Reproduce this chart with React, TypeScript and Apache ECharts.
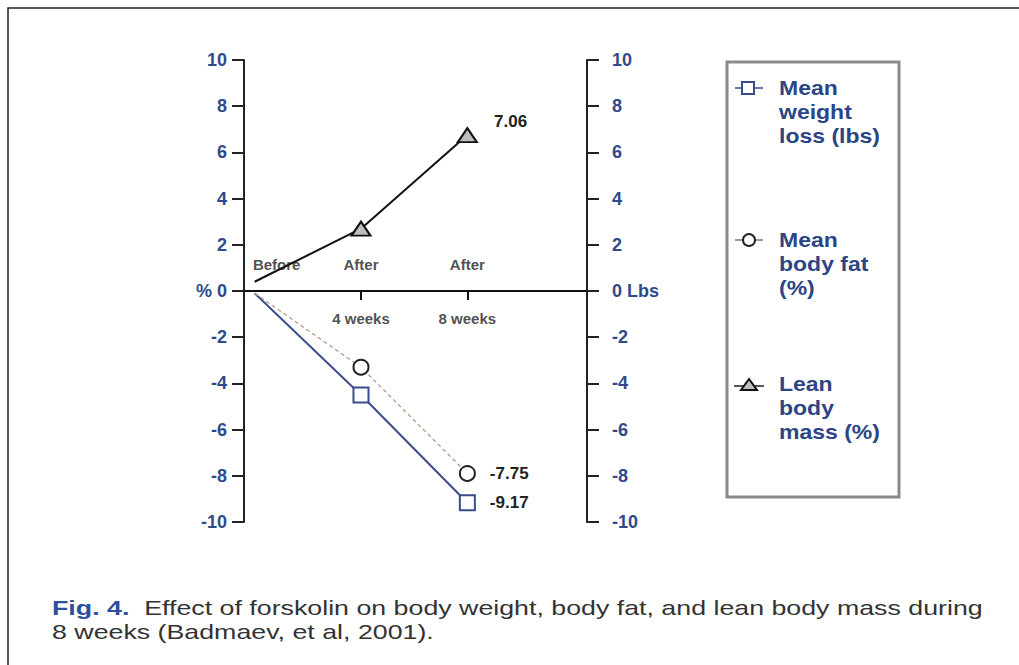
import React, { useEffect, useRef } from "react";
import * as echarts from "echarts";

const weeks = [0, 4, 8];
const stageTop = ["Before", "After", "After"];
const stageBottom = ["", "4 weeks", "8 weeks"];
const weightLoss = [-0.1, -4.5, -9.17];
const bodyFat = [-0.1, -3.3, -7.9];
const leanMass = [0.4, 2.7, 6.75];
const endLabels = { weight: "-9.17", fat: "-7.75", lean: "7.06" };
const yTicks = { min: -10, max: 10, step: 2 };
const legendNames = ["Mean\nweight\nloss (lbs)", "Mean\nbody fat\n(%)", "Lean\nbody\nmass (%)"];
const caption = "Effect of forskolin on body weight, body fat, and lean body mass during\n8 weeks (Badmaev, et al, 2001).";

const BLUE = "#2f4a8c";
const LINE_BLUE = "#3a4c8c";
const FONT = "Liberation Sans, Arial, sans-serif";

function build(vals: number[], endText: string) {
  return vals.map((v, i) => {
    const item: any = { value: [weeks[i], v] };
    if (i === 0) item.symbol = "none";
    if (i === vals.length - 1) {
      item.label = {
        show: true,
        formatter: endText,
        position: "right",
        distance: 14,
        color: "#222",
        fontWeight: "bold",
        fontSize: 17,
        fontFamily: FONT,
      };
    }
    return item;
  });
}

export default function App() {
  const ref = useRef<HTMLDivElement>(null);
  useEffect(() => {
    document.body.style.margin = "0";
    const chart = echarts.init(ref.current!, null, { renderer: "svg" });
    const yAxisBase = {
      type: "value",
      min: yTicks.min,
      max: yTicks.max,
      interval: yTicks.step,
      splitLine: { show: false },
      axisLine: { show: true, onZero: false, lineStyle: { color: "#222", width: 2 } },
      axisTick: { show: true, inside: false, length: 12, lineStyle: { color: "#222", width: 2 } },
    };
    const stageLabel = {
      color: "#222",
      fontWeight: "bold",
      fontSize: 15,
      fontFamily: FONT,
    };
    chart.setOption({
      animation: false,
      backgroundColor: "#fff",
      grid: { left: 244, right: 432, top: 60, bottom: 143 },
      xAxis: {
        type: "value",
        min: -0.4,
        max: 12.5,
        splitLine: { show: false },
        axisLine: { show: true, onZero: true, lineStyle: { color: "#111", width: 2 } },
        axisTick: { show: true, customValues: [weeks[1], weeks[2]], length: 9, lineStyle: { color: "#111", width: 2 } },
        axisLabel: { show: false },
      },
      yAxis: [
        {
          ...yAxisBase,
          position: "left",
          axisLabel: {
            margin: 17,
            color: BLUE,
            fontWeight: "bold",
            fontSize: 18,
            fontFamily: FONT,
            formatter: (v: number) => (v === 0 ? "% 0" : String(v)),
          },
        },
        {
          ...yAxisBase,
          position: "right",
          axisLabel: {
            margin: 25,
            color: BLUE,
            fontWeight: "bold",
            fontSize: 18,
            fontFamily: FONT,
            formatter: (v: number) => (v === 0 ? "0 Lbs" : String(v)),
          },
        },
      ],
      series: [
        {
          type: "line",
          name: "Mean weight loss (lbs)",
          data: build(weightLoss, endLabels.weight),
          symbol: "rect",
          symbolSize: 15,
          lineStyle: { color: LINE_BLUE, width: 2 },
          itemStyle: { color: "#fff", borderColor: LINE_BLUE, borderWidth: 2 },
          z: 3,
        },
        {
          type: "line",
          name: "Mean body fat (%)",
          data: build(bodyFat, endLabels.fat),
          symbol: "circle",
          symbolSize: 15,
          lineStyle: { color: "#b39d86", width: 1.3, type: [4, 3] },
          itemStyle: { color: "#fff", borderColor: "#222", borderWidth: 2 },
          z: 4,
        },
        {
          type: "line",
          name: "Lean body mass (%)",
          data: build(leanMass, endLabels.lean).map((d: any) => {
            if (d.label) d.label = { ...d.label, position: "right", offset: [2, -14] };
            return d;
          }),
          symbol: "triangle",
          symbolSize: [19, 14],
          lineStyle: { color: "#111", width: 2 },
          itemStyle: { color: "#bdbdbd", borderColor: "#111", borderWidth: 2 },
          z: 3,
        },
        {
          type: "scatter",
          data: weeks.map((w, i) => ({
            value: [w, 1.13],
            label: { offset: i === 0 ? [22, 0] : [0, 0] },
          })),
          symbolSize: 0,
          silent: true,
          label: {
            show: true,
            position: "inside",
            formatter: (p: any) => stageTop[p.dataIndex],
            ...stageLabel,
          },
        },
        {
          type: "scatter",
          data: weeks.slice(1).map((w) => ({ value: [w, -1.17] })),
          symbolSize: 0,
          silent: true,
          label: {
            show: true,
            position: "inside",
            formatter: (p: any) => stageBottom[p.dataIndex + 1],
            ...stageLabel,
          },
        },
      ],
      graphic: [
        {
          type: "rect",
          shape: { x: 8, y: 8, width: 1040, height: 700 },
          style: { fill: "none", stroke: "#222", lineWidth: 1.5 },
          silent: true,
        },
        {
          type: "rect",
          shape: { x: 727, y: 62, width: 172, height: 435 },
          style: { fill: "none", stroke: "#8a8a8a", lineWidth: 3 },
        },
        { type: "line", shape: { x1: 735, y1: 88, x2: 763, y2: 88 }, style: { stroke: LINE_BLUE, lineWidth: 1.5 } },
        { type: "rect", shape: { x: 742, y: 82, width: 12, height: 12 }, style: { fill: "#fff", stroke: LINE_BLUE, lineWidth: 2 } },
        { type: "line", shape: { x1: 735, y1: 240, x2: 763, y2: 240 }, style: { stroke: "#555", lineWidth: 1.2 } },
        { type: "circle", shape: { cx: 749, cy: 240, r: 6 }, style: { fill: "#fff", stroke: "#222", lineWidth: 2 } },
        { type: "line", shape: { x1: 734, y1: 386, x2: 764, y2: 386 }, style: { stroke: "#222", lineWidth: 1.5 } },
        { type: "polygon", shape: { points: [[749, 379], [741, 390], [757, 390]] }, style: { fill: "#bdbdbd", stroke: "#111", lineWidth: 2 } },
        ...legendNames.map((t, i) => ({
          type: "text",
          x: 779,
          y: [76, 228, 372][i],
          scaleX: 1.15,
          style: {
            text: t,
            fill: "#2b4585",
            font: `bold 20px ${FONT}`,
            lineHeight: 24,
            verticalAlign: "top",
          },
        })),
        {
          type: "text",
          x: 52,
          y: 596,
          scaleX: 1.275,
          style: {
            text: "{b|Fig. 4.}  " + caption,
            fill: "#333",
            font: `21px ${FONT}`,
            lineHeight: 24,
            verticalAlign: "top",
            rich: {
              b: { fill: "#2b4f9e", fontWeight: "bold", fontSize: 21, fontFamily: FONT },
            },
          },
        },
      ],
    });
    return () => chart.dispose();
  }, []);
  return <div ref={ref} style={{ width: 1019, height: 665 }} />;
}
